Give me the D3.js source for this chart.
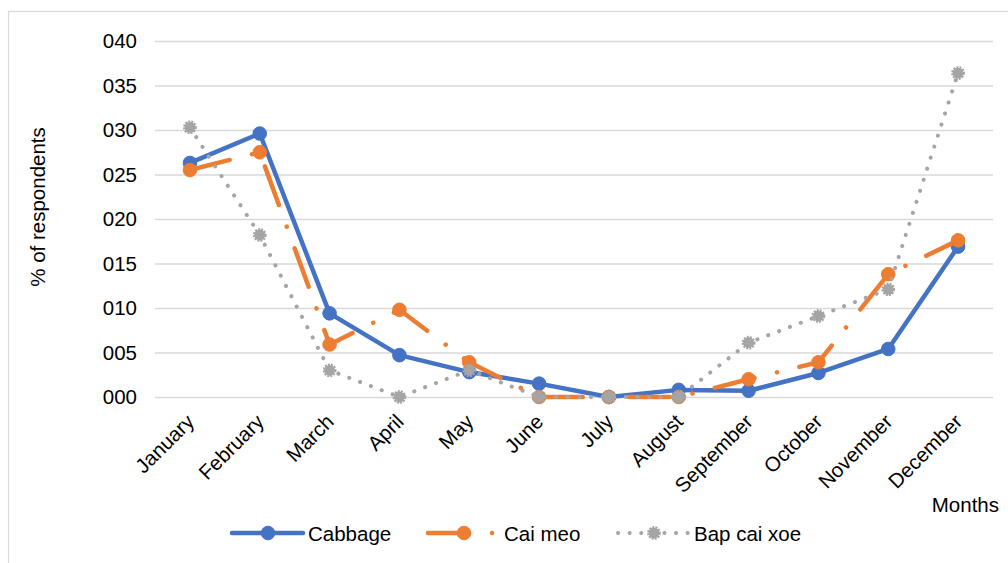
<!DOCTYPE html>
<html>
<head>
<meta charset="utf-8">
<script src="https://cdn.jsdelivr.net/npm/d3@7/dist/d3.min.js"></script>
<style>
  html, body { margin: 0; padding: 0; background: #fff; }
  svg { display: block; font-family: "Liberation Sans", Arial, sans-serif; }
</style>
</head>
<body>
<svg id="chart" width="1008" height="563"></svg>
<script>
// Monthly share of respondents per crop
const months = ["January", "February", "March", "April", "May", "June",
                "July", "August", "September", "October", "November", "December"];
const cabbage   = [26.3, 29.6, 9.4, 4.7, 2.8, 1.5, 0, 0.8, 0.7, 2.7, 5.4, 16.9];
const caiMeo    = [25.5, 27.5, 5.9, 9.8, 3.9, 0, 0, 0, 2.0, 3.9, 13.8, 17.6];
const bapCaiXoe = [30.3, 18.2, 3.0, 0, 3.0, 0, 0, 0, 6.1, 9.1, 12.1, 36.4];
const seriesNames = ["Cabbage", "Cai meo", "Bap cai xoe"];
const yTicks = [0, 5, 10, 15, 20, 25, 30, 35, 40];
const yTitle = "% of respondents";
const xTitle = "Months";

const colors = { "Cabbage": "#4472C4", "Cai meo": "#ED7D31", "Bap cai xoe": "#A5A5A5" };
const series = [
  { name: seriesNames[0], values: cabbage },
  { name: seriesNames[1], values: caiMeo },
  { name: seriesNames[2], values: bapCaiXoe }
];

const svg = d3.select("#chart");
const plot = { left: 155, right: 993, top: 41, bottom: 397 };

// outer chart frame
svg.append("rect")
  .attr("x", 8.5).attr("y", 11.5)
  .attr("width", 1010).attr("height", 560)
  .attr("fill", "#fff").attr("stroke", "#D9D9D9").attr("stroke-width", 1.2);

const x = d3.scalePoint().domain(months).range([plot.left, plot.right]).padding(0.5);
const y = d3.scaleLinear().domain([0, 40]).range([plot.bottom, plot.top]);

// horizontal gridlines + value labels
const yAxis = d3.axisLeft(y).tickValues(yTicks).tickFormat(d3.format("03d"))
  .tickSize(-(plot.right - plot.left)).tickPadding(18);
const gy = svg.append("g").attr("transform", `translate(${plot.left},0)`).call(yAxis);
gy.select(".domain").remove();
gy.selectAll(".tick line").attr("stroke", "#D9D9D9").attr("stroke-width", 1.6);
gy.selectAll(".tick text").attr("font-size", 20.5).attr("fill", "#000")
  .attr("font-family", "'Liberation Sans', Arial, sans-serif");

// category labels, rotated
const xAxis = d3.axisBottom(x).tickSize(0).tickPadding(0);
const gx = svg.append("g").attr("transform", `translate(0,${plot.bottom})`).call(xAxis);
gx.select(".domain").remove();
gx.selectAll(".tick text")
  .attr("font-size", 20.5).attr("fill", "#000")
  .attr("font-family", "'Liberation Sans', Arial, sans-serif")
  .attr("text-anchor", "end")
  .attr("dy", null).attr("y", null)
  .attr("transform", "translate(5,26) rotate(-45)");

// axis titles
svg.append("text")
  .attr("transform", "translate(45,207) rotate(-90)")
  .attr("text-anchor", "middle").attr("font-size", 20.5).attr("fill", "#000")
  .text(yTitle);
svg.append("text")
  .attr("x", 999).attr("y", 512)
  .attr("text-anchor", "end").attr("font-size", 20.5).attr("fill", "#000")
  .text(xTitle);

// line styles per series
const lineStyle = {
  "Cabbage":     { width: 4.5, dash: null, cap: "round" },
  "Cai meo":     { width: 4.5, dash: "41 23 0.1 23", cap: "round" },
  "Bap cai xoe": { width: 4, dash: "0.1 11.5", cap: "round" }
};

function drawMarker(g, name, cx, cy) {
  const c = colors[name];
  if (name === "Bap cai xoe") {
    g.append("circle").attr("cx", cx).attr("cy", cy).attr("r", 5.4)
      .attr("fill", c).attr("stroke", c).attr("stroke-width", 3)
      .attr("stroke-dasharray", "1.8 1.1");
  } else {
    g.append("circle").attr("cx", cx).attr("cy", cy).attr("r", 6.8)
      .attr("fill", c).attr("stroke", c).attr("stroke-width", 1);
  }
}

const line = d3.line().x((d, i) => x(months[i])).y(d => y(d));

series.forEach(s => {
  const st = lineStyle[s.name];
  const g = svg.append("g").attr("class", "series");
  g.append("path")
    .attr("d", line(s.values))
    .attr("fill", "none")
    .attr("stroke", colors[s.name])
    .attr("stroke-width", st.width)
    .attr("stroke-linecap", st.cap)
    .attr("stroke-linejoin", "round")
    .attr("stroke-dasharray", st.dash);
  s.values.forEach((v, i) => drawMarker(g, s.name, x(months[i]), y(v)));
});

// legend
const legendItems = [
  { name: "Cabbage", x0: 232 },
  { name: "Cai meo", x0: 428 },
  { name: "Bap cai xoe", x0: 618 }
];
const ly = 533;
legendItems.forEach(it => {
  const st = lineStyle[it.name];
  const g = svg.append("g").attr("class", "legend-item");
  g.append("line")
    .attr("x1", it.x0).attr("x2", it.x0 + 71).attr("y1", ly).attr("y2", ly)
    .attr("stroke", colors[it.name]).attr("stroke-width", st.width)
    .attr("stroke-linecap", st.cap).attr("stroke-dasharray", st.dash);
  drawMarker(g, it.name, it.x0 + 36, ly);
  g.append("text")
    .attr("x", it.x0 + 76).attr("y", ly + 7.5)
    .attr("font-size", 20.5).attr("fill", "#000")
    .text(it.name);
});
</script>
</body>
</html>
